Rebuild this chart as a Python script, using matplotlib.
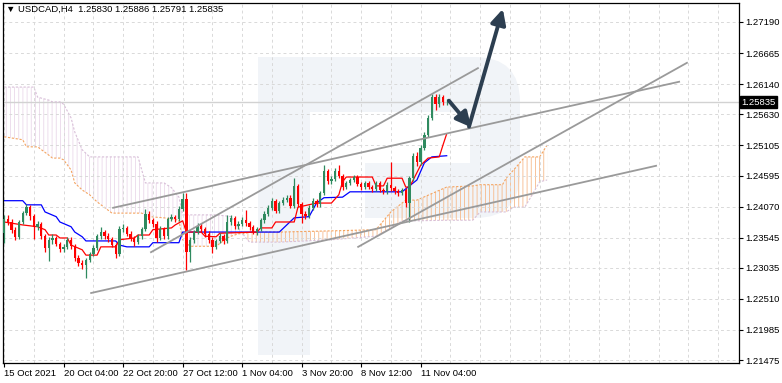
import numpy as np
import matplotlib.pyplot as plt
from matplotlib.patches import Rectangle, FancyBboxPatch

# ---------------------------------------------------------------- data
opens = [1.2362, 1.2386, 1.2381, 1.2368, 1.2356, 1.2381, 1.2396, 1.2406, 1.2391, 1.2373,
         1.2378, 1.2357, 1.2337, 1.2351, 1.2354, 1.2344, 1.2335, 1.2339, 1.2351, 1.2340,
         1.2320, 1.2312, 1.2308, 1.2317, 1.2327, 1.2337, 1.2357, 1.2364, 1.2357, 1.2352,
         1.2342, 1.2327, 1.2369, 1.2371, 1.2361, 1.2354, 1.2347, 1.2357, 1.2369, 1.2395,
         1.2384, 1.2378, 1.2354, 1.2369, 1.2357, 1.2386, 1.2389, 1.2386, 1.2403, 1.2420,
         1.2330, 1.2351, 1.2364, 1.2374, 1.2369, 1.2361, 1.2351, 1.2339, 1.2349, 1.2357,
         1.2349, 1.2381, 1.2388, 1.2374, 1.2378, 1.2384, 1.2379, 1.2373, 1.2364, 1.2369,
         1.2384, 1.2395, 1.2405, 1.2417, 1.2400, 1.2413, 1.2418, 1.2422, 1.2408, 1.2442,
         1.2411, 1.2395, 1.2391, 1.2405, 1.2417, 1.2411, 1.2430, 1.2467, 1.2450, 1.2454,
         1.2467, 1.2459, 1.2440, 1.2447, 1.2452, 1.2457, 1.2445, 1.2440, 1.2447, 1.2440,
         1.2437, 1.2447, 1.2435, 1.2433, 1.2444, 1.2438, 1.2433, 1.2430, 1.2435, 1.2413,
         1.2455, 1.2493, 1.2482, 1.2506, 1.2528, 1.2557, 1.2592, 1.2580, 1.2592, 1.25830]
closes = [1.2386, 1.2381, 1.2368, 1.2356, 1.2381, 1.2396, 1.2406, 1.2391, 1.2373, 1.2378,
          1.2357, 1.2337, 1.2351, 1.2354, 1.2344, 1.2335, 1.2339, 1.2351, 1.2340, 1.2320,
          1.2312, 1.2308, 1.2317, 1.2327, 1.2337, 1.2357, 1.2364, 1.2357, 1.2352, 1.2342,
          1.2327, 1.2369, 1.2371, 1.2361, 1.2354, 1.2347, 1.2357, 1.2369, 1.2395, 1.2384,
          1.2378, 1.2354, 1.2369, 1.2357, 1.2386, 1.2389, 1.2386, 1.2403, 1.2420, 1.2330,
          1.2351, 1.2364, 1.2374, 1.2369, 1.2361, 1.2351, 1.2339, 1.2349, 1.2357, 1.2349,
          1.2381, 1.2388, 1.2374, 1.2378, 1.2384, 1.2379, 1.2373, 1.2364, 1.2369, 1.2384,
          1.2395, 1.2405, 1.2417, 1.2400, 1.2413, 1.2418, 1.2422, 1.2408, 1.2442, 1.2411,
          1.2395, 1.2391, 1.2405, 1.2417, 1.2411, 1.2430, 1.2467, 1.2450, 1.2454, 1.2467,
          1.2459, 1.2440, 1.2447, 1.2452, 1.2457, 1.2445, 1.2440, 1.2447, 1.2440, 1.2437,
          1.2447, 1.2435, 1.2433, 1.2444, 1.2438, 1.2433, 1.2430, 1.2435, 1.2413, 1.2455,
          1.2493, 1.2482, 1.2506, 1.2528, 1.2557, 1.2592, 1.2580, 1.2592, 1.2583, 1.25835]
highs = [1.2392, 1.2393, 1.2386, 1.2372, 1.2385, 1.2400, 1.2412, 1.2410, 1.2394, 1.2383,
         1.2381, 1.2360, 1.2355, 1.2360, 1.2358, 1.2348, 1.2343, 1.2356, 1.2355, 1.2343,
         1.2325, 1.2316, 1.2320, 1.2331, 1.2342, 1.2361, 1.2372, 1.2368, 1.2362, 1.2356,
         1.2345, 1.2374, 1.2378, 1.2375, 1.2365, 1.2358, 1.2361, 1.2373, 1.2403, 1.2399,
         1.2388, 1.2382, 1.2374, 1.2373, 1.2390, 1.2394, 1.2393, 1.2408, 1.2430, 1.2430,
         1.2356, 1.2368, 1.2380, 1.2379, 1.2372, 1.2365, 1.2355, 1.2353, 1.2362, 1.2361,
         1.2393, 1.2393, 1.2391, 1.2383, 1.2389, 1.2401, 1.2383, 1.2376, 1.2373, 1.2388,
         1.2399, 1.2410, 1.2421, 1.2420, 1.2417, 1.2423, 1.2427, 1.2426, 1.2455, 1.2446,
         1.2414, 1.2399, 1.2409, 1.2421, 1.2420, 1.2434, 1.2477, 1.2470, 1.2459, 1.2472,
         1.2477, 1.2462, 1.2451, 1.2456, 1.2461, 1.2460, 1.2449, 1.2451, 1.2450, 1.2444,
         1.2451, 1.2450, 1.2439, 1.2448, 1.2482, 1.2442, 1.2437, 1.2439, 1.2438, 1.2459,
         1.2498, 1.2500, 1.2511, 1.2533, 1.2562, 1.2598, 1.2598, 1.2597, 1.2596, 1.25886]
lows = [1.2345, 1.2376, 1.2362, 1.2350, 1.2352, 1.2377, 1.2392, 1.2385, 1.2352, 1.2368,
        1.2352, 1.2330, 1.2315, 1.2343, 1.2340, 1.2330, 1.2331, 1.2335, 1.2336, 1.2315,
        1.2306, 1.2302, 1.2286, 1.2313, 1.2323, 1.2333, 1.2353, 1.2352, 1.2348, 1.2338,
        1.2320, 1.2323, 1.2364, 1.2357, 1.2349, 1.2340, 1.2343, 1.2353, 1.2365, 1.2380,
        1.2373, 1.2348, 1.2350, 1.2352, 1.2353, 1.2382, 1.2381, 1.2382, 1.2399, 1.2300,
        1.2314, 1.2346, 1.2360, 1.2364, 1.2356, 1.2345, 1.2329, 1.2335, 1.2345, 1.2344,
        1.2345, 1.2376, 1.2369, 1.2370, 1.2374, 1.2375, 1.2368, 1.2360, 1.2359, 1.2365,
        1.2380, 1.2391, 1.2401, 1.2396, 1.2396, 1.2409, 1.2414, 1.2404, 1.2404, 1.2406,
        1.2379, 1.2386, 1.2387, 1.2401, 1.2406, 1.2407, 1.2426, 1.2445, 1.2445, 1.2450,
        1.2455, 1.2435, 1.2436, 1.2443, 1.2448, 1.2441, 1.2435, 1.2436, 1.2436, 1.2432,
        1.2433, 1.2431, 1.2428, 1.2429, 1.2434, 1.2428, 1.2425, 1.2426, 1.2406, 1.2381,
        1.2450, 1.2476, 1.2478, 1.2502, 1.2524, 1.2553, 1.2570, 1.2576, 1.2578, 1.25791]

# Ichimoku: Tenkan (red) and Kijun (blue)
tenkan_bar = [0, 5, 9, 11, 12, 14, 15, 17, 18, 21, 22, 25, 26, 30, 31, 35, 36, 39, 40, 45,
              46, 48, 49, 53, 54, 57, 58, 68, 69, 72, 73, 78, 79, 84, 88, 90, 91, 92, 99, 100,
              102, 103, 107, 108, 109, 110, 112, 114, 117, 118, 119]
tenkan = [1.2381, 1.2376, 1.2373, 1.2368, 1.2359, 1.2359, 1.2354, 1.2354, 1.2342, 1.2334,
          1.2325, 1.2325, 1.2339, 1.2339, 1.2351, 1.2354, 1.2359, 1.2359, 1.2368, 1.2371,
          1.2376, 1.2383, 1.2364, 1.2364, 1.2357, 1.2356, 1.2362, 1.2364, 1.2371, 1.2371,
          1.2381, 1.2381, 1.2406, 1.2413, 1.2413, 1.2427, 1.2449, 1.2457, 1.2457, 1.2442,
          1.2442, 1.2455, 1.2455, 1.2440, 1.2440, 1.2452, 1.2477, 1.2489, 1.2491, 1.2511, 1.2530]
kijun_bar = [0, 5, 6, 10, 11, 14, 15, 18, 19, 21, 22, 30, 31, 33, 39, 40, 47, 48, 74, 78,
             82, 84, 86, 91, 93, 107, 110, 111, 113, 115, 119]
kijun = [1.2417, 1.2417, 1.2410, 1.2410, 1.2398, 1.2390, 1.2381, 1.2373, 1.2364, 1.2356,
         1.2349, 1.2349, 1.2342, 1.2339, 1.2339, 1.2346, 1.2346, 1.2364, 1.2364, 1.2388,
         1.2390, 1.2413, 1.2422, 1.2423, 1.2432, 1.2432, 1.2447, 1.2452, 1.2481, 1.2491, 1.2493]

# cloud (Senkou span A / B, shifted 26 bars ahead)
cloud_bar = [0, 5, 6, 8, 9, 12, 13, 15, 16, 18, 19, 21, 23, 25, 29, 36, 37, 38, 39, 43,
             45, 47, 48, 50, 57, 60, 61, 63, 65, 66, 74, 88, 100, 104, 107, 108, 111, 119, 126, 128,
             134, 135, 137, 138, 140, 142, 144, 146]
span_a = [1.2525, 1.2520, 1.2508, 1.2508, 1.2508, 1.2494, 1.2489, 1.2489, 1.2486, 1.2469,
          1.2447, 1.2435, 1.2427, 1.2415, 1.2396, 1.2396, 1.2396, 1.2393, 1.2390, 1.2388,
          1.2386, 1.2384, 1.2351, 1.2340, 1.2340, 1.2354, 1.2357, 1.2361, 1.2362, 1.2364,
          1.2364, 1.2366, 1.2368, 1.2398, 1.2413, 1.2418, 1.2418, 1.2440, 1.2442, 1.2444,
          1.2444, 1.2455, 1.2469, 1.2476, 1.2491, 1.2491, 1.2491, 1.2511]
span_b = [1.2609, 1.2609, 1.2609, 1.2609, 1.2592, 1.2587, 1.2584, 1.2584, 1.2580, 1.2557,
          1.2533, 1.2503, 1.2491, 1.2491, 1.2491, 1.2491, 1.2469, 1.2447, 1.2447, 1.2447,
          1.2439, 1.2423, 1.2393, 1.2393, 1.2393, 1.2391, 1.2390, 1.2371, 1.2354, 1.2347,
          1.2347, 1.2351, 1.2357, 1.2371, 1.2383, 1.2383, 1.2383, 1.2384, 1.2384, 1.2398,
          1.2398, 1.2398, 1.2406, 1.2406, 1.2406, 1.2427, 1.2449, 1.2452]

# trend lines drawn on the chart (bar, price) -> (bar, price)
trend_x0 = [29.3, 39.5, 23.4, 95.2]
trend_y0 = [1.2405, 1.2330, 1.2261, 1.2339]
trend_x1 = [181.5, 127.4, 175.3, 183.6]
trend_y1 = [1.2618, 1.2641, 1.2476, 1.2650]

# forecast arrows
arrow_x0 = [119.6, 125.0]
arrow_y0 = [1.2586, 1.2542]
arrow_x1 = [125.6, 134.1]
arrow_y1 = [1.2541, 1.2741]

price_ticks = [1.21475, 1.21985, 1.22510, 1.23035, 1.23545, 1.24070,
               1.24595, 1.25105, 1.25630, 1.26140, 1.26665, 1.27190]
date_ticks = [0, 16, 32, 48, 64, 80, 96, 112]
date_labels = ['15 Oct 2021', '20 Oct 04:00', '22 Oct 20:00', '27 Oct 12:00',
               '1 Nov 04:00', '3 Nov 20:00', '8 Nov 12:00', '11 Nov 04:00']
last_price = 1.25835

# ---------------------------------------------------------------- figure
plt.rcParams['font.family'] = ['Liberation Sans', 'DejaVu Sans']
plt.rcParams['hatch.linewidth'] = 0.6

fig = plt.figure(figsize=(7.82, 3.83), dpi=100)
ax = fig.add_axes([3 / 782, 20 / 383, 736 / 782, 360 / 383])
ax.set_xlim(-0.3, 197.6)
ax.set_ylim(1.21427, 1.27511)

# watermark logo (figure pixels, top-left origin)
def px(x, y):
    return (x / 100, (383 - y) / 100)

wm = '#f1f4f8'
fig.add_artist(FancyBboxPatch(px(258, 218), 2.62, 1.61, boxstyle='round,pad=0,rounding_size=0.45',
                              transform=fig.dpi_scale_trans, fc=wm, ec='none', zorder=0))
fig.add_artist(Rectangle(px(258, 355), 0.52, 2.98, transform=fig.dpi_scale_trans,
                         fc=wm, ec='none', zorder=0))
fig.add_artist(Rectangle(px(310, 163), 1.60, 0.51, transform=fig.dpi_scale_trans,
                         fc='white', ec='none', zorder=0))
fig.add_artist(Rectangle(px(310, 218), 0.55, 0.55, transform=fig.dpi_scale_trans,
                         fc='white', ec='none', zorder=0))
ax.patch.set_alpha(0)

# grid
ax.set_xticks(range(0, 200, 8), minor=True)
ax.grid(True, which='both', color='#d9d9d9', lw=0.7, ls=(0, (3, 3)), zorder=0.5)

# cloud
cb = np.array(cloud_bar)
sa = np.array(span_a)
sb = np.array(span_b)
ax.fill_between(cb, sa, sb, where=sa >= sb, interpolate=True, fc='none',
                ec='#f6b98a', hatch='||||', lw=0, zorder=1)
ax.fill_between(cb, sa, sb, where=sa < sb, interpolate=True, fc='none',
                ec='#ead8ea', hatch='||||', lw=0, zorder=1)
ax.plot(cb, sa, color='#f4a460', lw=0.8, ls=(0, (2, 1.5)), zorder=1.2)
ax.plot(cb, sb, color='#d8bfd8', lw=0.8, ls=(0, (2, 1.5)), zorder=1.2)

# price line
ax.axhline(last_price, color='#d2d2d2', lw=1.0, zorder=1)

# tenkan / kijun
ax.plot(kijun_bar, kijun, color='#0000ff', lw=0.9, zorder=2)
ax.plot(tenkan_bar, tenkan, color='#ff0000', lw=0.9, zorder=2)

# candles
o = np.array(opens)
c = np.array(closes)
h = np.array(highs)
l = np.array(lows)
xb = np.arange(len(c))
up = c >= o
cols = np.where(up, '#2f8a5f', '#ff0000')
ax.vlines(xb, l, h, colors=cols, lw=0.9, zorder=3)
body = np.maximum(np.abs(c - o), 0.00005)
ax.bar(xb, body, bottom=np.minimum(o, c), width=0.62, color=cols, lw=0, zorder=3)

# trend lines
for i in range(len(trend_x0)):
    ax.plot([trend_x0[i], trend_x1[i]], [trend_y0[i], trend_y1[i]],
            color='#9a9a9a', lw=1.3, zorder=4)

# arrows
for i in range(len(arrow_x0)):
    ax.annotate('', xy=(arrow_x1[i], arrow_y1[i]), xytext=(arrow_x0[i], arrow_y0[i]),
                arrowprops=dict(arrowstyle='-|>,head_length=0.9,head_width=0.45', lw=2.8,
                                color='#2c3e50', shrinkA=0, shrinkB=0), zorder=5)

# axes
ax.yaxis.tick_right()
ax.set_yticks(price_ticks)
ax.set_yticklabels(['%.5f' % v for v in price_ticks])
ax.set_xticks(date_ticks)
ax.set_xticklabels(date_labels, ha='left')
ax.tick_params(axis='both', which='major', labelsize=6.8, length=3, width=0.8,
               color='black', pad=1.5)
ax.tick_params(axis='x', which='minor', length=0)
for s in ax.spines.values():
    s.set_color('black')
    s.set_linewidth(0.9)

ax.text(1.003, last_price, '%.5f' % last_price, transform=ax.get_yaxis_transform(),
        fontsize=6.8, color='white', va='center', ha='left',
        bbox=dict(boxstyle='square,pad=0.15', fc='black', ec='black'))

fig.text(6 / 782, 1 - 9 / 383, '\u25bc USDCAD,H4  1.25830 1.25886 1.25791 1.25835',
         fontsize=6.8, va='center', ha='left', family=['Liberation Sans', 'DejaVu Sans'])

fig.savefig('out.png', dpi=100)
